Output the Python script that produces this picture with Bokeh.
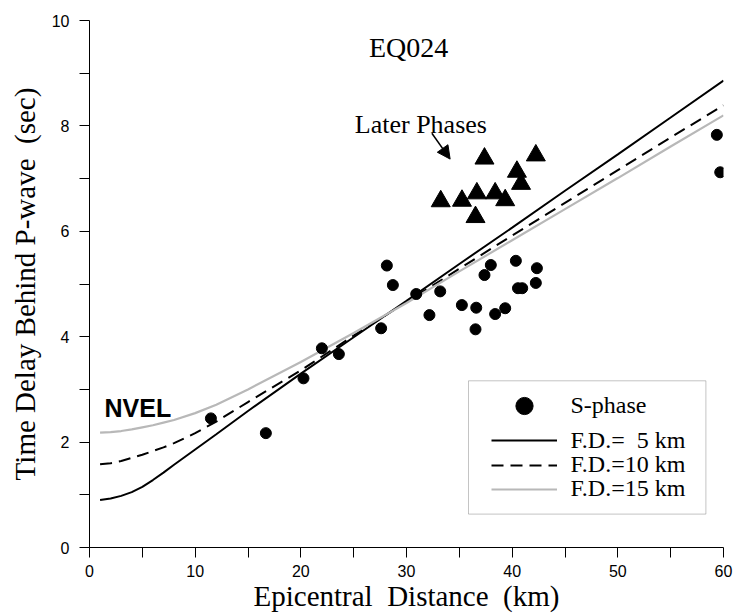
from bokeh.plotting import figure
from bokeh.models import (Legend, LegendItem, Label, Arrow, NormalHead,
                          BoxAnnotation, FixedTicker, Range1d)
from bokeh.embed import file_html
from bokeh.resources import INLINE

# ---------------- data ----------------
s_dist = [11.49, 16.69, 20.25, 21.99, 23.60, 27.60, 28.14, 28.71, 30.92, 32.17,
          33.19, 35.24, 36.53, 36.60, 37.38, 37.98, 38.39, 39.34, 40.35, 40.55,
          40.95, 42.24, 42.34, 59.37, 59.69]
s_delay = [2.45, 2.17, 3.21, 3.78, 3.67, 4.16, 5.35, 4.98, 4.81, 4.41,
           4.86, 4.60, 4.14, 4.55, 5.17, 5.36, 4.43, 4.54, 5.44, 4.92,
           4.92, 5.02, 5.30, 7.83, 7.12]

lp_dist = [33.24, 35.25, 36.66, 36.53, 37.38, 38.39, 39.34, 40.45, 40.84, 42.24]
lp_delay = [6.57, 6.58, 6.72, 6.27, 7.38, 6.72, 6.59, 7.13, 6.90, 7.44]

curve_dist = [1, 2, 3, 4, 5, 6, 7, 8, 10, 12, 15, 20, 25, 30, 35, 40, 45, 50, 55, 60]
fd5 = [0.90, 0.93, 0.98, 1.05, 1.15, 1.28, 1.42, 1.57, 1.86, 2.15, 2.59, 3.30,
       3.99, 4.68, 5.38, 6.07, 6.77, 7.46, 8.16, 8.86]
fd10 = [1.58, 1.60, 1.64, 1.70, 1.76, 1.83, 1.90, 1.98, 2.17, 2.39, 2.76, 3.36,
        4.02, 4.66, 5.29, 5.92, 6.54, 7.16, 7.78, 8.39]
fd15 = [2.18, 2.19, 2.21, 2.24, 2.28, 2.32, 2.37, 2.42, 2.55, 2.71, 3.00, 3.52,
        4.07, 4.64, 5.24, 5.83, 6.42, 7.01, 7.61, 8.20]

x_ticks = [0, 10, 20, 30, 40, 50, 60]
x_minor = [5, 15, 25, 35, 45, 55]
y_ticks = [0, 2, 4, 6, 8, 10]
y_minor = [1, 3, 5, 7, 9]

legend_labels = ["S-phase", "F.D.=  5 km", "F.D.=10 km", "F.D.=15 km"]

SERIF = "Liberation Serif"
SANS = "Liberation Sans"
NB = "\u00a0 "  # keeps the wide double gap of the original labels

# ---------------- figure ----------------
p = figure(frame_width=634, frame_height=527,
           x_range=Range1d(0, 60), y_range=Range1d(0, 10),
           output_backend="svg", toolbar_location=None,
           min_border_left=89, min_border_top=20, min_border_right=10,
           min_border_bottom=62)
p.outline_line_color = None
p.xgrid.visible = False
p.ygrid.visible = False
p.background_fill_color = "white"

for ax in (p.xaxis[0], p.yaxis[0]):
    ax.major_tick_in = 0
    ax.major_tick_out = 10
    ax.minor_tick_in = 0
    ax.minor_tick_out = 10
    ax.axis_line_color = "black"
    ax.major_tick_line_color = "black"
    ax.minor_tick_line_color = "black"
    ax.major_label_text_font = SANS
    ax.major_label_text_font_size = "16px"
    ax.major_label_text_color = "black"
    ax.axis_label_text_font = SERIF
    ax.axis_label_text_font_size = "29px"
    ax.axis_label_text_font_style = "normal"
    ax.axis_label_text_color = "black"

p.xaxis[0].ticker = FixedTicker(ticks=x_ticks, minor_ticks=x_minor)
p.yaxis[0].ticker = FixedTicker(ticks=y_ticks, minor_ticks=y_minor)
p.xaxis[0].axis_label = "Epicentral" + NB + "Distance" + NB + "(km)"
p.yaxis[0].axis_label = "Time Delay Behind P-wave" + NB + "(sec)"
p.xaxis[0].major_label_standoff = 7
p.yaxis[0].major_label_standoff = 10
p.xaxis[0].axis_label_standoff = 0
p.yaxis[0].axis_label_standoff = 8

# curves
r5 = p.line(curve_dist, fd5, line_color="black", line_width=2)
r10 = p.line(curve_dist, fd10, line_color="black", line_width=2, line_dash="12 7")
r15 = p.line(curve_dist, fd15, line_color="#b8b8b8", line_width=2.2)

# points
rs = p.scatter(s_dist, s_delay, marker="circle", size=11, color="black")
rt = p.scatter(lp_dist, lp_delay, marker="triangle", size=19, color="black")

# texts
p.add_layout(Label(x=30.2, y=9.49, text="EQ024", text_font=SERIF,
                   text_font_size="28px", text_align="center",
                   text_baseline="alphabetic", text_color="black"))
p.add_layout(Label(x=31.36, y=8.02, text="Later Phases", text_font=SERIF,
                   text_font_size="26px", text_align="center",
                   text_baseline="alphabetic", text_color="black"))
p.add_layout(Label(x=1.42, y=2.645, text="NVEL", text_font=SANS,
                   text_font_size="25px", text_font_style="bold",
                   text_align="left", text_baseline="alphabetic",
                   text_color="black"))
p.add_layout(Arrow(end=NormalHead(size=13, fill_color="black", line_color="black"),
                   x_start=32.40, y_start=7.86, x_end=34.13, y_end=7.37,
                   line_color="black", line_width=1.5))

# legend frame
p.add_layout(BoxAnnotation(left=379, right=616.4, top=166.7, bottom=33.4,
                           left_units="screen", right_units="screen",
                           top_units="screen", bottom_units="screen",
                           fill_alpha=0, line_color="#3a3a3a", line_width=1))

leg_common = dict(glyph_width=66, label_standoff=13, padding=0, spacing=0,
                  margin=0, border_line_alpha=0, background_fill_alpha=0,
                  label_text_font=SERIF, label_text_font_size="24px",
                  label_text_color="black")
p.add_layout(Legend(items=[LegendItem(label=legend_labels[0], renderers=[rs])],
                    location=(402.4, 120.2), glyph_height=43, label_height=43,
                    **leg_common))
for lab, rend, vy in zip(legend_labels[1:], [r5, r10, r15], [93.2, 68.9, 44.7]):
    p.add_layout(Legend(items=[LegendItem(label=lab, renderers=[rend])],
                        location=(402.4, vy), glyph_height=24, label_height=24,
                        **leg_common))

open("out.html", "w").write(file_html(p, INLINE))
